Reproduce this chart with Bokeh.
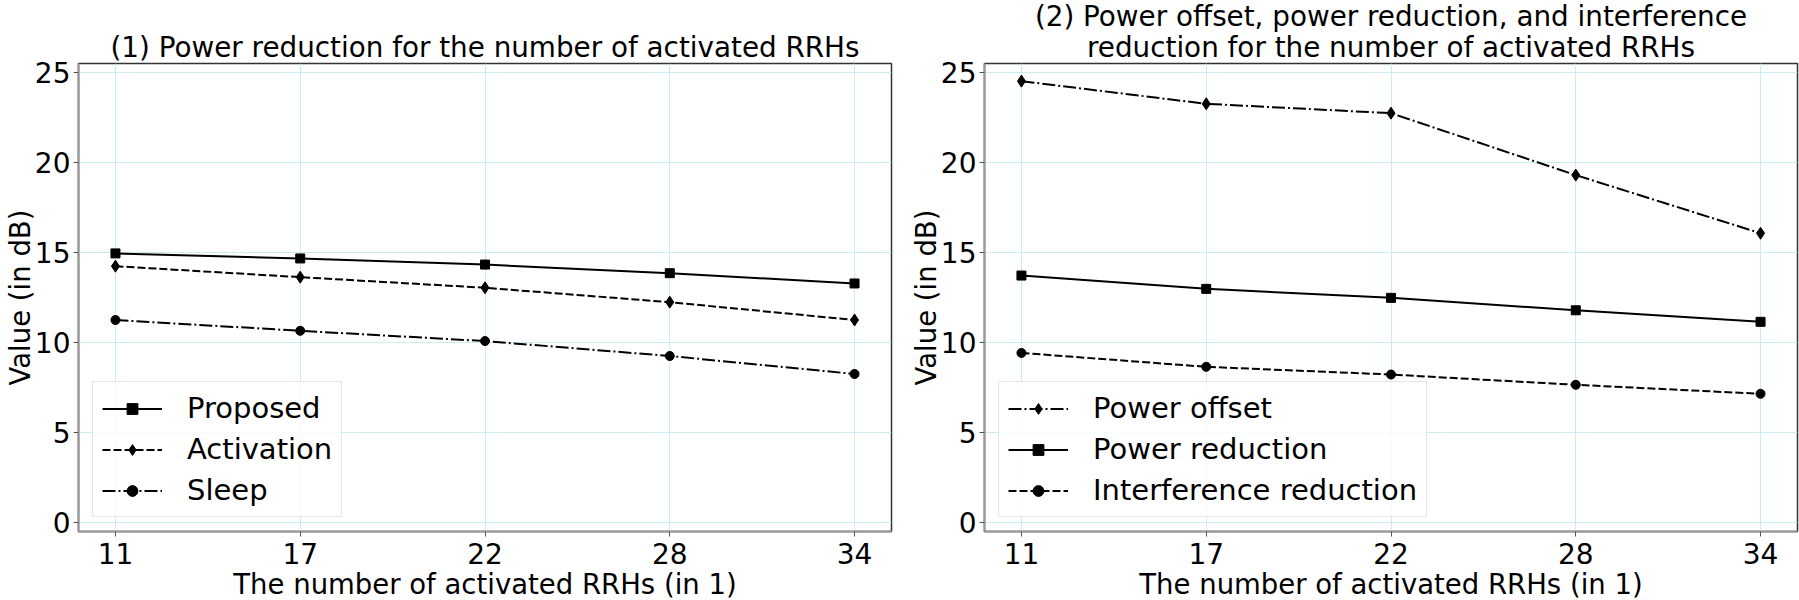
from bokeh.plotting import figure
from bokeh.layouts import row
from bokeh.models import Range1d, FixedTicker, Legend, LegendItem, Title
from bokeh.embed import file_html
from bokeh.resources import INLINE

# ---- data ----
rrh_counts = ["11", "17", "22", "28", "34"]
proposed = [14.95, 14.67, 14.33, 13.85, 13.28]
activation = [14.24, 13.63, 13.04, 12.24, 11.25]
sleep = [11.25, 10.65, 10.08, 9.25, 8.25]
power_offset = [24.52, 23.26, 22.74, 19.30, 16.07]
power_reduction = [13.72, 12.98, 12.48, 11.79, 11.15]
interference_reduction = [9.42, 8.65, 8.22, 7.65, 7.15]
y_ticks = [0, 5, 10, 15, 20, 25]

title_left = "(1) Power reduction for the number of activated RRHs"
title_right = ["(2) Power offset, power reduction, and interference",
               "reduction for the number of activated RRHs"]
x_label = "The number of activated RRHs (in 1)"
y_label = "Value (in dB)"

FONT = "DejaVu Sans"
TITLE_SIZE = "27.8px"
LABEL_SIZE = "27.5px"
LEGEND_SIZE = "29px"
TICK_SIZE = "28px"
FRAME_W, FRAME_H = 813, 468

xpos = list(range(len(rrh_counts)))

DASH = {"solid": "solid", "dashed": "8 3", "dashdot": "13 3 2 3"}


def make_fig(min_left, min_right):
    p = figure(frame_width=FRAME_W, frame_height=FRAME_H, title=None,
               min_border_left=min_left, min_border_right=min_right,
               min_border_top=63, min_border_bottom=69,
               x_range=Range1d(-0.2, len(rrh_counts) - 0.8),
               y_range=Range1d(-0.5, 25.5),
               output_backend="svg", toolbar_location=None)
    p.background_fill_color = "white"
    p.border_fill_color = "white"
    p.outline_line_color = "#333333"
    p.outline_line_width = 1.5

    p.xaxis.ticker = FixedTicker(ticks=xpos)
    p.xaxis.major_label_overrides = {i: s for i, s in zip(xpos, rrh_counts)}
    p.yaxis.ticker = FixedTicker(ticks=y_ticks)
    for ax in (p.xaxis[0], p.yaxis[0]):
        ax.axis_line_color = "#999999"
        ax.axis_line_width = 2
        ax.major_tick_line_color = "#555555"
        ax.major_tick_out = 5
        ax.major_tick_in = 0
        ax.minor_tick_out = 0
        ax.minor_tick_in = 0
        ax.major_label_text_font = FONT
        ax.major_label_text_font_size = TICK_SIZE
        ax.major_label_text_color = "black"
        ax.axis_label_text_font = FONT
        ax.axis_label_text_font_size = LABEL_SIZE
        ax.axis_label_text_font_style = "normal"
        ax.axis_label_text_color = "black"
    p.xaxis.axis_label = x_label
    p.yaxis.axis_label = y_label
    p.xaxis.major_label_standoff = 6
    p.xaxis.axis_label_standoff = 1
    p.yaxis.major_label_standoff = 3
    p.yaxis.axis_label_standoff = -4

    p.xgrid.ticker = FixedTicker(ticks=xpos)
    p.ygrid.ticker = FixedTicker(ticks=y_ticks)
    for g in (p.xgrid[0], p.ygrid[0]):
        g.grid_line_color = "#c8eef0"
        g.grid_line_width = 1
    return p


def add_series(p, values, dash, marker, size):
    ln = p.line(xpos, values, line_color="black", line_width=2,
                line_dash=DASH[dash])
    sc = p.scatter(xpos, values, marker=marker, size=size,
                   fill_color="black", line_color="black")
    return [ln, sc]


def add_legend(p, items):
    leg = Legend(items=[LegendItem(label=lab, renderers=r) for lab, r in items],
                 location=(14, 14), orientation="vertical",
                 label_text_font=FONT, label_text_font_size=LEGEND_SIZE,
                 label_text_color="black",
                 glyph_width=60, glyph_height=27, label_height=32,
                 label_standoff=25, spacing=7, padding=9, margin=0,
                 border_line_color="#cccccc", border_line_width=1.5,
                 background_fill_color="white", background_fill_alpha=0.8)
    p.add_layout(leg, "center")


def add_title(p, text, standoff, valign):
    # titles added first sit closest to the frame
    p.add_layout(Title(text=text, align="center", vertical_align=valign,
                       standoff=standoff, text_font=FONT,
                       text_font_size=TITLE_SIZE, text_font_style="normal",
                       text_color="black"), "above")


# ---- left panel ----
p1 = make_fig(77, 10)
r_prop = add_series(p1, proposed, "solid", "square", 9)
r_act = add_series(p1, activation, "dashed", "diamond", 12)
r_sleep = add_series(p1, sleep, "dashdot", "circle", 9)
add_legend(p1, [("Proposed", r_prop), ("Activation", r_act), ("Sleep", r_sleep)])
add_title(p1, title_left, 0, "bottom")

# ---- right panel ----
p2 = make_fig(83, 3)
r_off = add_series(p2, power_offset, "dashdot", "diamond", 12)
r_pr = add_series(p2, power_reduction, "solid", "square", 9)
r_ir = add_series(p2, interference_reduction, "dashed", "circle", 9)
add_legend(p2, [("Power offset", r_off), ("Power reduction", r_pr),
                ("Interference reduction", r_ir)])
add_title(p2, title_right[1], 0, "bottom")
add_title(p2, title_right[0], -11, "middle")

layout = row(p1, p2)
open("out.html", "w").write(file_html(layout, INLINE))
